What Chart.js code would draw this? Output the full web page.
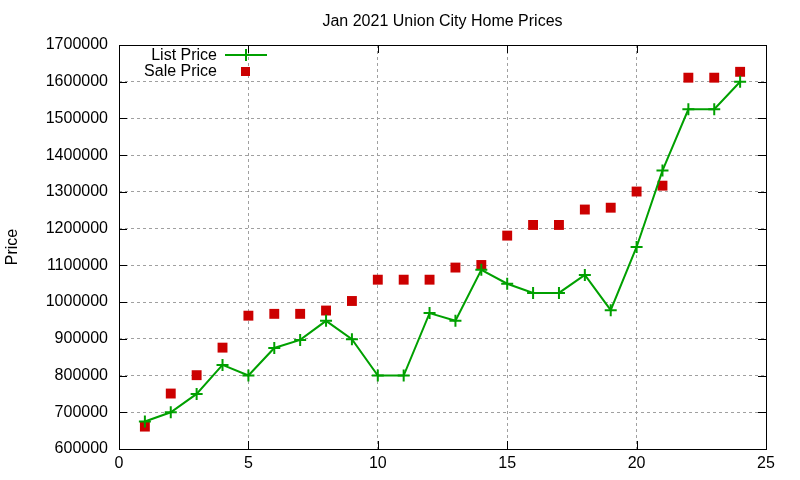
<!DOCTYPE html>
<html>
<head>
<meta charset="utf-8">
<script src="https://cdn.jsdelivr.net/npm/chart.js@4/dist/chart.umd.min.js"></script>
<style>
  html, body { margin: 0; padding: 0; background: #fff; }
  #wrap { width: 800px; height: 480px; }
</style>
</head>
<body>
<div id="wrap"><canvas id="homeChart"></canvas></div>
<script>
// data
const months = [1, 2, 3, 4, 5, 6, 7, 8, 9, 10, 11, 12, 13, 14, 15, 16, 17, 18, 19, 20, 21, 22, 23, 24];
const listPrice = [675000, 700000, 750000, 829000, 800000, 875000, 897000, 949000, 899000, 800000, 800000, 970000,
  949000, 1088000, 1050000, 1025000, 1025000, 1074000, 978000, 1150000, 1358000, 1525000, 1525000, 1600000];
const salePrice = [661000, 751000, 801000, 876000, 963000, 968000, 968000, 977000, 1003000, 1061000, 1061000, 1061000,
  1094000, 1101000, 1181000, 1210000, 1210000, 1252000, 1257000, 1301000, 1317000, 1611000, 1611000, 1627000];
const xTicks = [0, 5, 10, 15, 20, 25];
const yMin = 600000, yMax = 1700000, yStep = 100000;

const font = "'Liberation Sans', Arial, sans-serif";
const fontSize = 16;
const green = "#00a000";
const red = "#cc0000";

const toPoints = (vals) => vals.map((v, i) => ({ x: months[i], y: v }));

// box around the plot, inward ticks and the legend (gnuplot style)
const framePlugin = {
  id: "frame",
  afterDraw(chart) {
    const { ctx, chartArea: a, scales } = chart;
    ctx.save();
    ctx.strokeStyle = "#000";
    ctx.lineWidth = 1;
    ctx.strokeRect(a.left + 0.5, a.top + 0.5, a.right - a.left, a.bottom - a.top);

    ctx.beginPath();
    for (let v = yMin; v <= yMax; v += yStep) {
      const y = Math.round(scales.y.getPixelForValue(v)) + 0.5;
      ctx.moveTo(a.left, y); ctx.lineTo(a.left + 8, y);
      ctx.moveTo(a.right, y); ctx.lineTo(a.right - 8, y);
    }
    xTicks.forEach((t) => {
      const x = Math.round(scales.x.getPixelForValue(t)) + 0.5;
      ctx.moveTo(x, a.bottom); ctx.lineTo(x, a.bottom - 8);
      ctx.moveTo(x, a.top); ctx.lineTo(x, a.top + 8);
    });
    ctx.stroke();

    // legend
    ctx.font = fontSize + "px " + font;
    ctx.fillStyle = "#000";
    ctx.textAlign = "right";
    ctx.textBaseline = "middle";
    ctx.fillText("List Price", 217, 56);
    ctx.fillText("Sale Price", 217, 72);

    ctx.strokeStyle = green;
    ctx.lineWidth = 2;
    ctx.beginPath();
    ctx.moveTo(225, 55); ctx.lineTo(267, 55);
    ctx.moveTo(246, 49); ctx.lineTo(246, 61);
    ctx.stroke();

    ctx.fillStyle = red;
    ctx.fillRect(241, 67, 9, 9);
    ctx.restore();
  },
};

const ctx = document.getElementById("homeChart");

new Chart(ctx, {
  type: "scatter",
  data: {
    datasets: [
      {
        label: "List Price",
        data: toPoints(listPrice),
        showLine: true,
        borderColor: green,
        backgroundColor: green,
        borderWidth: 2,
        pointStyle: "cross",
        pointRadius: 6,
        pointBorderWidth: 2,
        tension: 0,
      },
      {
        label: "Sale Price",
        data: toPoints(salePrice),
        showLine: false,
        borderColor: red,
        backgroundColor: red,
        pointStyle: "rect",
        pointRadius: 7,
        pointBorderWidth: 0,
      },
    ],
  },
  options: {
    responsive: true,
    maintainAspectRatio: false,
    animation: false,
    layout: { padding: { top: 0, right: 34, bottom: 0, left: 0 } },
    scales: {
      x: {
        type: "linear",
        min: 0,
        max: 25,
        afterBuildTicks: (s) => { s.ticks = xTicks.map((v) => ({ value: v })); },
        afterFit: (s) => { s.height = 31; },
        grid: { color: "#a0a0a0", drawTicks: false },
        border: { display: false, dash: [3, 3] },
        ticks: { color: "#000", padding: 5, font: { family: font, size: fontSize } },
      },
      // top axis only carries the chart title, centred over the plot like gnuplot
      top: {
        type: "linear",
        position: "top",
        min: 0,
        max: 25,
        afterFit: (s) => { s.height = 45; },
        grid: { display: false },
        border: { display: false },
        ticks: { display: false },
        title: {
          display: true,
          text: "Jan 2021 Union City Home Prices",
          color: "#000",
          font: { family: font, size: fontSize },
          padding: { top: 12, bottom: 0 },
        },
      },
      y: {
        min: yMin,
        max: yMax,
        ticks: {
          stepSize: yStep,
          color: "#000",
          padding: 11,
          font: { family: font, size: fontSize },
          callback: (v) => String(v),
        },
        afterFit: (s) => { s.width = 119; },
        grid: { color: "#a0a0a0", drawTicks: false },
        border: { display: false, dash: [3, 3] },
        title: {
          display: true,
          text: "Price",
          color: "#000",
          font: { family: font, size: fontSize },
          padding: { top: 3, bottom: 0 },
        },
      },
    },
    plugins: {
      legend: { display: false },
      tooltip: { enabled: false },
      title: { display: false },
    },
  },
  plugins: [framePlugin],
});
</script>
</body>
</html>
